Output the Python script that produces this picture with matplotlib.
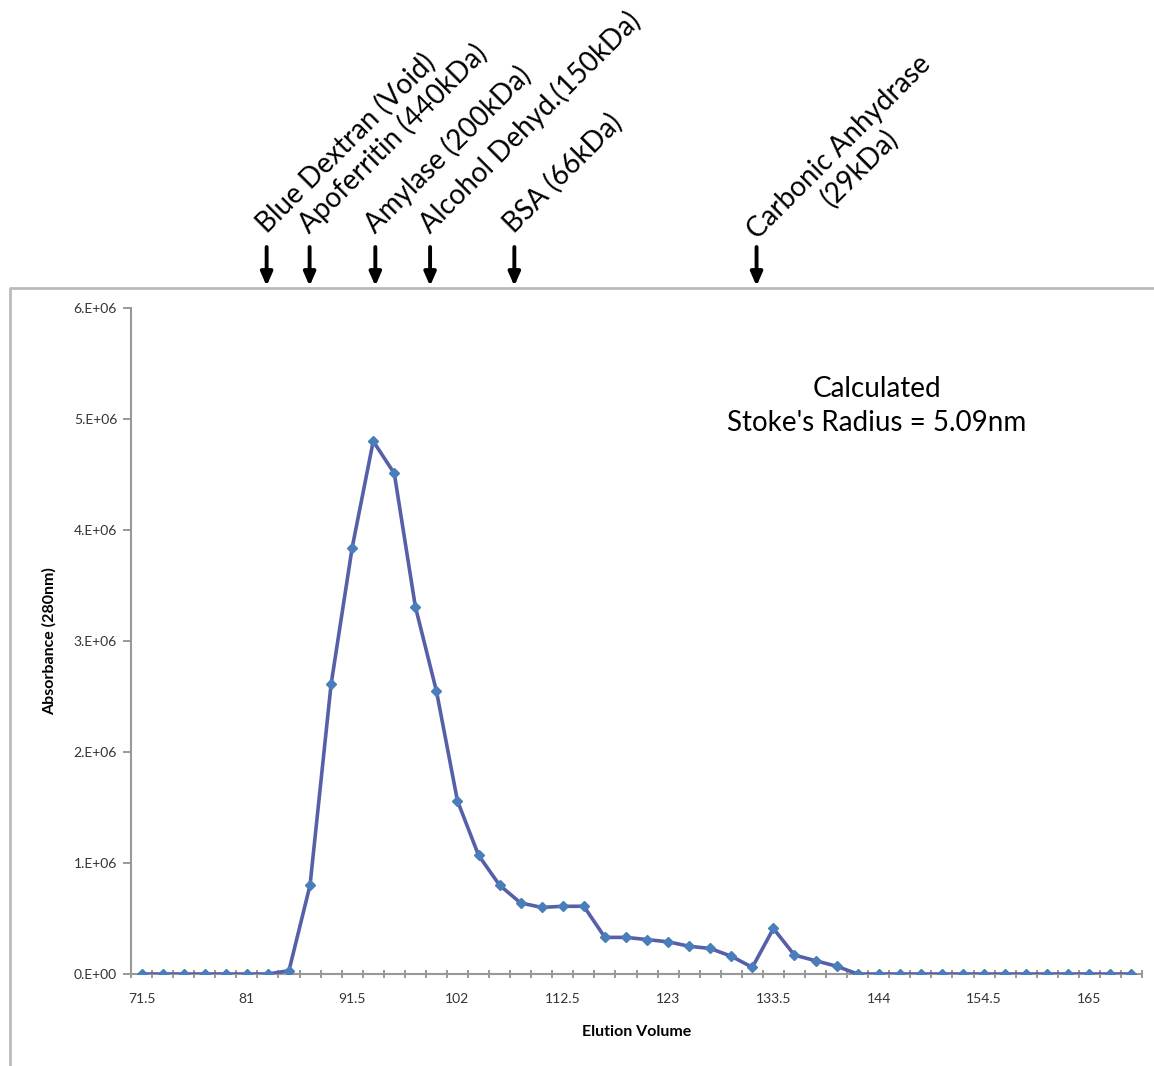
import numpy as np
import matplotlib
matplotlib.use("Agg")
import matplotlib.pyplot as plt
from matplotlib.lines import Line2D

# elution profile, one value per fraction (category axis like the Excel original)
absorbance = [0, 0, 0, 0, 0, 0, 0, 0.03e6,
              0.80e6, 2.61e6, 3.84e6, 4.80e6, 4.51e6, 3.31e6, 2.55e6, 1.56e6,
              1.07e6, 0.80e6, 0.64e6, 0.60e6, 0.61e6, 0.61e6, 0.33e6, 0.33e6,
              0.31e6, 0.29e6, 0.25e6, 0.23e6, 0.16e6, 0.06e6, 0.41e6, 0.17e6,
              0.12e6, 0.07e6, 0, 0, 0, 0, 0, 0,
              0, 0, 0, 0, 0, 0, 0, 0]
x_tick_labels = ["71.5", "81", "91.5", "102", "112.5", "123", "133.5", "144", "154.5", "165"]
y_ticks = [0, 1e6, 2e6, 3e6, 4e6, 5e6, 6e6]
y_tick_labels = ["0.E+00", "1.E+06", "2.E+06", "3.E+06", "4.E+06", "5.E+06", "6.E+06"]

# standards (position in fraction index)
standard_names = ["Blue Dextran (Void)", "Apoferritin (440kDa)", "Amylase (200kDa)",
                  "Alcohol Dehyd.(150kDa)", "BSA (66kDa)", "Carbonic Anhydrase\n(29kDa)"]
standard_pos = [5.94, 7.98, 11.1, 13.7, 17.7, 29.2]

label_font = "Lato"
W, H = 1154, 1066
fig = plt.figure(figsize=(W / 100, H / 100), dpi=100)
ax = fig.add_axes([131 / W, 1 - 974 / H, (1142 - 131) / W, (974 - 308) / H])

x = np.arange(len(absorbance))
ax.plot(x, absorbance, color="#5560A8", lw=2.6, marker="D", ms=5.5,
        mfc="#4A7EBB", mec="#4A7EBB", zorder=3)

ax.set_xlim(-0.5, len(absorbance) - 0.5)
ax.set_ylim(0, 6e6)
ax.set_xticks(x[::5])
ax.set_xticklabels(x_tick_labels, fontsize=10, family=label_font, color="#333333")
ax.set_xticks(np.arange(len(absorbance) + 1) - 0.5, minor=True)
ax.tick_params(axis="x", which="major", length=0, pad=14)
ax.tick_params(axis="x", which="minor", length=6, direction="inout", color="#888888", width=1.2)
ax.set_yticks(y_ticks)
ax.set_yticklabels(y_tick_labels, fontsize=10, family=label_font, color="#333333")
ax.tick_params(axis="y", length=6, color="#888888", width=1.2, pad=4)

for s in ["top", "right"]:
    ax.spines[s].set_visible(False)
for s in ["left", "bottom"]:
    ax.spines[s].set_color("#999999")
    ax.spines[s].set_linewidth(1.5)

ax.set_xlabel("Elution Volume", fontsize=11.5, fontweight="bold", family=label_font, labelpad=14)
ax.set_ylabel("Absorbance (280nm)", fontsize=11.5, fontweight="bold", family=label_font, labelpad=12)

ax.text(0.738, 0.853, "Calculated\nStoke's Radius = 5.09nm", transform=ax.transAxes,
        ha="center", va="center", fontsize=20, family=label_font, linespacing=1.4)

# outer chart frame (top and left edges visible)
fig.add_artist(Line2D([10 / W, 10 / W, 1], [0, 1 - 288 / H, 1 - 288 / H],
                      transform=fig.transFigure, color="#BBBBBB", lw=2))

# arrows + rotated labels above the frame
tip_y = 1 - 286 / H
tail_y = 1 - 247 / H
for name, pos in zip(standard_names, standard_pos):
    ax.annotate("", xy=(pos, tip_y), xytext=(pos, tail_y),
                xycoords=("data", "figure fraction"), textcoords=("data", "figure fraction"),
                arrowprops=dict(arrowstyle="-|>,head_length=0.8,head_width=0.35",
                                color="black", lw=2.8, shrinkA=0, shrinkB=0),
                annotation_clip=False)
    if "\n" in name:
        ax.annotate(name, xy=(pos, tip_y), xycoords=("data", "figure fraction"),
                    xytext=(93, 128), textcoords="offset pixels", rotation=45,
                    rotation_mode="anchor", ha="center", va="center", ma="center",
                    fontsize=20, family=label_font, linespacing=1.15, annotation_clip=False)
    else:
        ax.annotate(name, xy=(pos, tip_y), xycoords=("data", "figure fraction"),
                    xytext=(0, 52), textcoords="offset pixels", rotation=45,
                    rotation_mode="anchor", ha="left", va="baseline",
                    fontsize=20, family=label_font, annotation_clip=False)

fig.savefig("out.png", dpi=100)
